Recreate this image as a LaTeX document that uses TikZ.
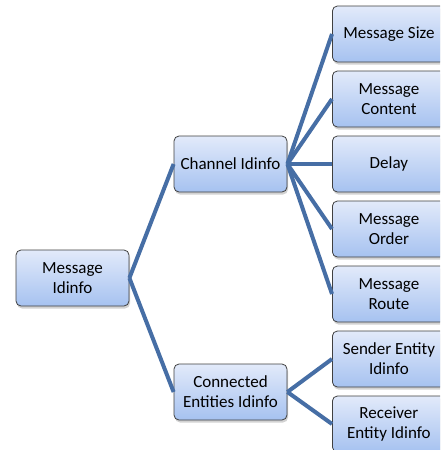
\documentclass[tikz,border=0pt]{standalone}
\usepackage{fontspec}
\setmainfont{Carlito}
\usetikzlibrary{shadows,backgrounds}
\begin{document}
\begin{tikzpicture}[x=1pt,y=-1pt,
  box/.style={draw=black!75, line width=0.8pt, rounded corners=5pt,
    top color={rgb,255:red,226;green,234;blue,250}, bottom color={rgb,255:red,166;green,194;blue,240},
    minimum width=113pt, minimum height=56pt, inner sep=2pt,
    align=center, font=\fontsize{17}{20}\selectfont,
    drop shadow={opacity=0.35, shadow xshift=1pt, shadow yshift=-2.5pt}},
  link/.style={draw={rgb,255:red,70;green,110;blue,165}, line width=4pt}]
\clip (0,0) rectangle (440,450);
\fill[white] (0,0) rectangle (440,450);

\node[box] (root) at (72.5,278) {Message\\Idinfo};
\node[box] (chan) at (230.5,164) {Channel Idinfo};
\node[box] (conn) at (230.5,392) {Connected\\Entities Idinfo};

\node[box, anchor=west] (size) at (332,34) {Message Size};
\node[box, anchor=west] (content) at (332,99) {Message\\Content};
\node[box, anchor=west] (delay) at (332,164) {Delay};
\node[box, anchor=west] (order) at (332,229) {Message\\Order};
\node[box, anchor=west] (route) at (332,294) {Message\\Route};
\node[box, anchor=west] (sender) at (332,359) {Sender Entity\\Idinfo};
\node[box, anchor=west] (receiver) at (332,424) {Receiver\\Entity Idinfo};

% connectors from each parent to its children
\draw[link] (root.east) -- (chan.west);
\draw[link] (root.east) -- (conn.west);
\foreach \c in {size,content,delay,order,route}
  \draw[link] (chan.east) -- (\c.west);
\foreach \c in {sender,receiver}
  \draw[link] (conn.east) -- (\c.west);
\end{tikzpicture}
\end{document}
